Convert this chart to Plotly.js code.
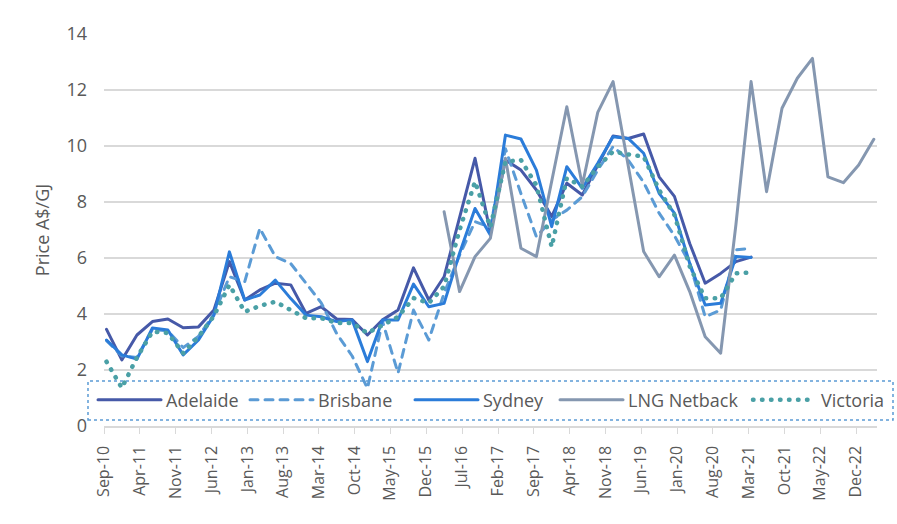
<!DOCTYPE html>
<html>
<head>
<meta charset="utf-8">
<script src="https://cdn.plot.ly/plotly-3.0.1.min.js"></script>
<style>
  html, body { margin: 0; padding: 0; background: #fff; }
  #chart { width: 897px; height: 524px; }
  path.js-line { stroke-linecap: round; stroke-linejoin: round; }
</style>
</head>
<body>
<div id="chart"></div>
<script>
// Quarterly observations starting Sep-2010
const startYear = 2010, startMonth = 9, nQuarters = 51;
const quarters = [];
for (let i = 0; i < nQuarters; i++) {
  const m = startMonth - 1 + 3 * i;
  const y = startYear + Math.floor(m / 12);
  const mm = (m % 12) + 1;
  quarters.push(y + '-' + String(mm).padStart(2, '0') + '-16');
}

const adelaide = [3.45, 2.36, 3.25, 3.73, 3.82, 3.51, 3.54, 4.14, 5.87, 4.5,
  4.86, 5.1, 5.04, 4.02, 4.26, 3.82, 3.8, 3.25, 3.79, 4.14,
  5.65, 4.5, 5.33, 7.4, 9.56, 6.9, 9.5, 9.14, 8.43, 7.48,
  8.67, 8.25, 9.3, 10.36, 10.27, 10.43, 8.9, 8.2, 6.52, 5.1,
  5.45, 5.87, 6.03];

const brisbane = [3.05, 2.5, 2.45, 3.45, 3.4, 2.8, 3.2, 4.0, 5.33, 5.15,
  7.06, 6.05, 5.8, 5.1, 4.4, 3.3, 2.5, 1.35, 3.73, 1.89,
  4.14, 3.07, 4.74, 6.1, 7.3, 7.1, 9.9, 8.3, 6.76, 7.36,
  7.71, 8.19, 9.14, 9.98, 9.5, 8.7, 7.6, 6.8, 5.81, 3.9,
  4.14, 6.29, 6.35];

const sydney = [3.07, 2.54, 2.39, 3.5, 3.43, 2.54, 3.07, 3.96, 6.22, 4.5,
  4.68, 5.21, 4.55, 3.96, 3.9, 3.73, 3.79, 2.3, 3.79, 3.79,
  5.07, 4.26, 4.38, 6.17, 7.77, 6.82, 10.39, 10.25, 9.14, 7.12,
  9.26, 8.49, 9.38, 10.33, 10.27, 9.74, 8.31, 7.6, 5.81, 4.32,
  4.38, 6.05, 6.02];

const lngNetback = [null, null, null, null, null, null, null, null, null, null,
  null, null, null, null, null, null, null, null, null, null,
  null, null,
  7.65, 4.8, 6.05, 6.7, 9.56, 6.35, 6.05, 8.7, 11.4, 8.6,
  11.2, 12.3, 9.3, 6.23, 5.33, 6.1, 4.8, 3.19, 2.6, 7.2,
  12.3, 8.37, 11.35, 12.42, 13.13, 8.9, 8.69, 9.32, 10.24];

const victoria = [2.3, 1.36, 2.45, 3.37, 3.32, 2.6, 3.19, 3.93, 5.04, 4.08,
  4.29, 4.44, 4.14, 3.85, 3.85, 3.68, 3.68, 3.32, 3.6, 3.9,
  4.57, 4.39, 4.98, 7.0, 8.73, 7.1, 9.44, 9.5, 8.6, 6.4,
  8.85, 8.55, 9.26, 9.8, 9.7, 9.62, 8.43, 7.54, 5.7, 4.56,
  4.56, 5.45, 5.48];

const seriesNames = ['Adelaide', 'Brisbane', 'Sydney', 'LNG Netback', 'Victoria'];

function q(n) { return quarters.slice(0, n); }

const traces = [
  { x: q(adelaide.length), y: adelaide, name: seriesNames[0], mode: 'lines', legend: 'legend',
    line: { color: '#4659a8', width: 3 } },
  { x: q(brisbane.length), y: brisbane, name: seriesNames[1], mode: 'lines', legend: 'legend2',
    line: { color: '#5b9bd5', width: 3, dash: '8px,7px' } },
  { x: q(sydney.length), y: sydney, name: seriesNames[2], mode: 'lines', legend: 'legend3',
    line: { color: '#2b7cd9', width: 3 } },
  { x: quarters, y: lngNetback, name: seriesNames[3], mode: 'lines', legend: 'legend4',
    line: { color: '#8597b0', width: 3 } },
  { x: q(victoria.length), y: victoria, name: seriesNames[4], mode: 'lines', legend: 'legend5',
    line: { color: '#4aa0a6', width: 4.5, dash: '0.5px,8.5px' } }
];

const FONT = 'Open Sans, Noto Sans, sans-serif';

function legendAt(px) {
  return {
    orientation: 'h', x: (px - 104) / 773, xanchor: 'left', y: 0.066, yanchor: 'middle',
    bgcolor: 'rgba(0,0,0,0)', borderwidth: 0, itemwidth: 63,
    font: { family: FONT, size: 18, color: '#595959' }
  };
}

const layout = {
  width: 897, height: 524,
  margin: { l: 104, r: 20, t: 34, b: 98, autoexpand: false },
  paper_bgcolor: '#ffffff', plot_bgcolor: '#ffffff',
  font: { family: FONT, color: '#595959', size: 16 },
  showlegend: true,
  legend: legendAt(93),
  legend2: legendAt(245),
  legend3: legendAt(410),
  legend4: legendAt(555),
  legend5: legendAt(748),
  xaxis: {
    type: 'date',
    range: ['2010-09-01', '2023-04-04'],
    tick0: '2010-09-01', dtick: 'M7', tickformat: '%b-%y',
    tickangle: -90,
    ticks: 'outside', ticklen: 6, tickwidth: 1, tickcolor: '#d9d9d9',
    showline: true, linecolor: '#d9d9d9', linewidth: 1.5,
    showgrid: false, zeroline: false,
    tickfont: { family: FONT, size: 16, color: '#595959' },
    ticklabelstandoff: 6,
    automargin: false,
    fixedrange: true
  },
  yaxis: {
    range: [0, 14], dtick: 2, tick0: 0,
    showgrid: true, gridcolor: '#d9d9d9', gridwidth: 1.3,
    zeroline: false, showline: false, ticks: '',
    tickfont: { family: FONT, size: 18, color: '#595959' },
    ticklabelstandoff: 16,
    title: { text: 'Price A$/GJ', font: { family: FONT, size: 18, color: '#595959' }, standoff: 12 },
    automargin: false,
    fixedrange: true
  },
  shapes: [{
    type: 'rect', xref: 'paper', yref: 'paper',
    x0: -0.0207, x1: 1.0207, y0: 0.0153, y1: 0.1148,
    line: { color: '#5b9bd5', width: 1.5, dash: 'dot' },
    fillcolor: 'rgba(0,0,0,0)'
  }]
};

Plotly.newPlot('chart', traces, layout, { displayModeBar: false, staticPlot: true });
</script>
</body>
</html>
